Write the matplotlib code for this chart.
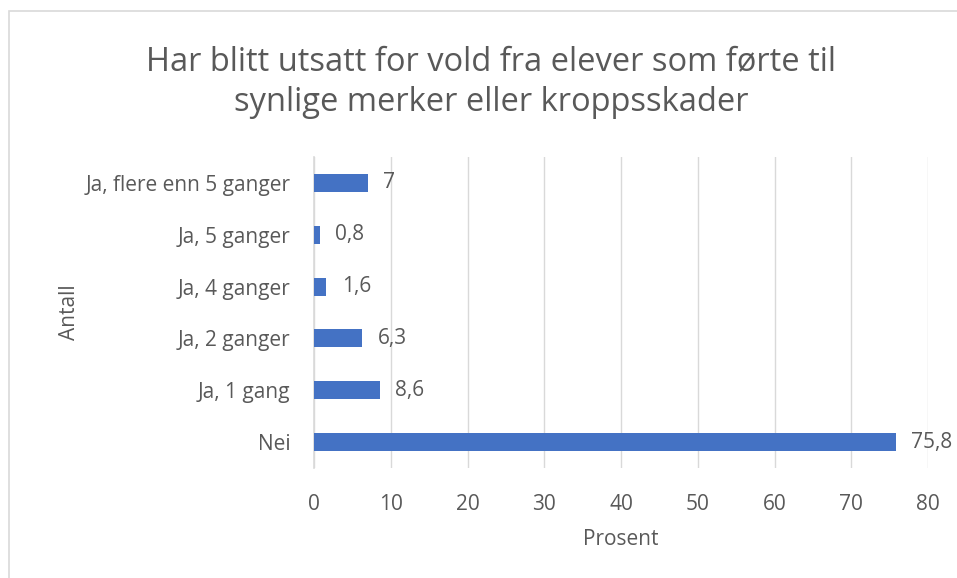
import matplotlib
matplotlib.use("Agg")
import matplotlib.pyplot as plt
from matplotlib.patches import Rectangle

categories = ["Nei", "Ja, 1 gang", "Ja, 2 ganger", "Ja, 4 ganger",
              "Ja, 5 ganger", "Ja, flere enn 5 ganger"]
values = [75.8, 8.6, 6.3, 1.6, 0.8, 7]
value_labels = ["75,8", "8,6", "6,3", "1,6", "0,8", "7"]
xticks = [0, 10, 20, 30, 40, 50, 60, 70, 80]

TEXT = "#595959"
GRID = "#D9D9D9"
BAR = "#4472C4"

plt.rcParams["font.family"] = ["Open Sans", "DejaVu Sans"]

fig = plt.figure(figsize=(9.57, 5.78), dpi=100)
# light border of the chart area
fig.patches.append(Rectangle((9 / 957, -0.1), 1.2, 1.1 - 11 / 578,
                             transform=fig.transFigure, fill=False,
                             edgecolor=GRID, linewidth=1.2))

ax = fig.add_axes([314 / 957, 1 - 468 / 578, (928 - 314) / 957, (468 - 157) / 578])
y = list(range(len(categories)))
ax.barh(y, values, height=0.35, color=BAR, zorder=3)
for yi, v, lab in zip(y, values, value_labels):
    ax.text(v + 2.0, yi, lab, va="center", ha="left", fontsize=15, color=TEXT)

ax.set_xlim(0, 80)
ax.set_ylim(-0.5, len(categories) - 0.5)
ax.set_xticks(xticks)
ax.set_yticks(y)
ax.set_yticklabels(categories)
ax.tick_params(axis="both", length=0, labelsize=15, colors=TEXT)
ax.tick_params(axis="y", pad=17)
ax.tick_params(axis="x", pad=19)
ax.grid(axis="x", color=GRID, linewidth=1, zorder=0)
for s in ["top", "right", "bottom"]:
    ax.spines[s].set_visible(False)
ax.spines["left"].set_color(GRID)
ax.spines["left"].set_linewidth(1.2)

ax.set_xlabel("Prosent", fontsize=15, color=TEXT, labelpad=10)
ax.set_ylabel("Antall", fontsize=15, color=TEXT, labelpad=4)
fig.text(0.513, 1 - 82 / 578,
         "Har blitt utsatt for vold fra elever som førte til\nsynlige merker eller kroppsskader",
         ha="center", va="center", fontsize=23.5, color=TEXT, linespacing=1.3)

fig.savefig("out.png", dpi=100)
